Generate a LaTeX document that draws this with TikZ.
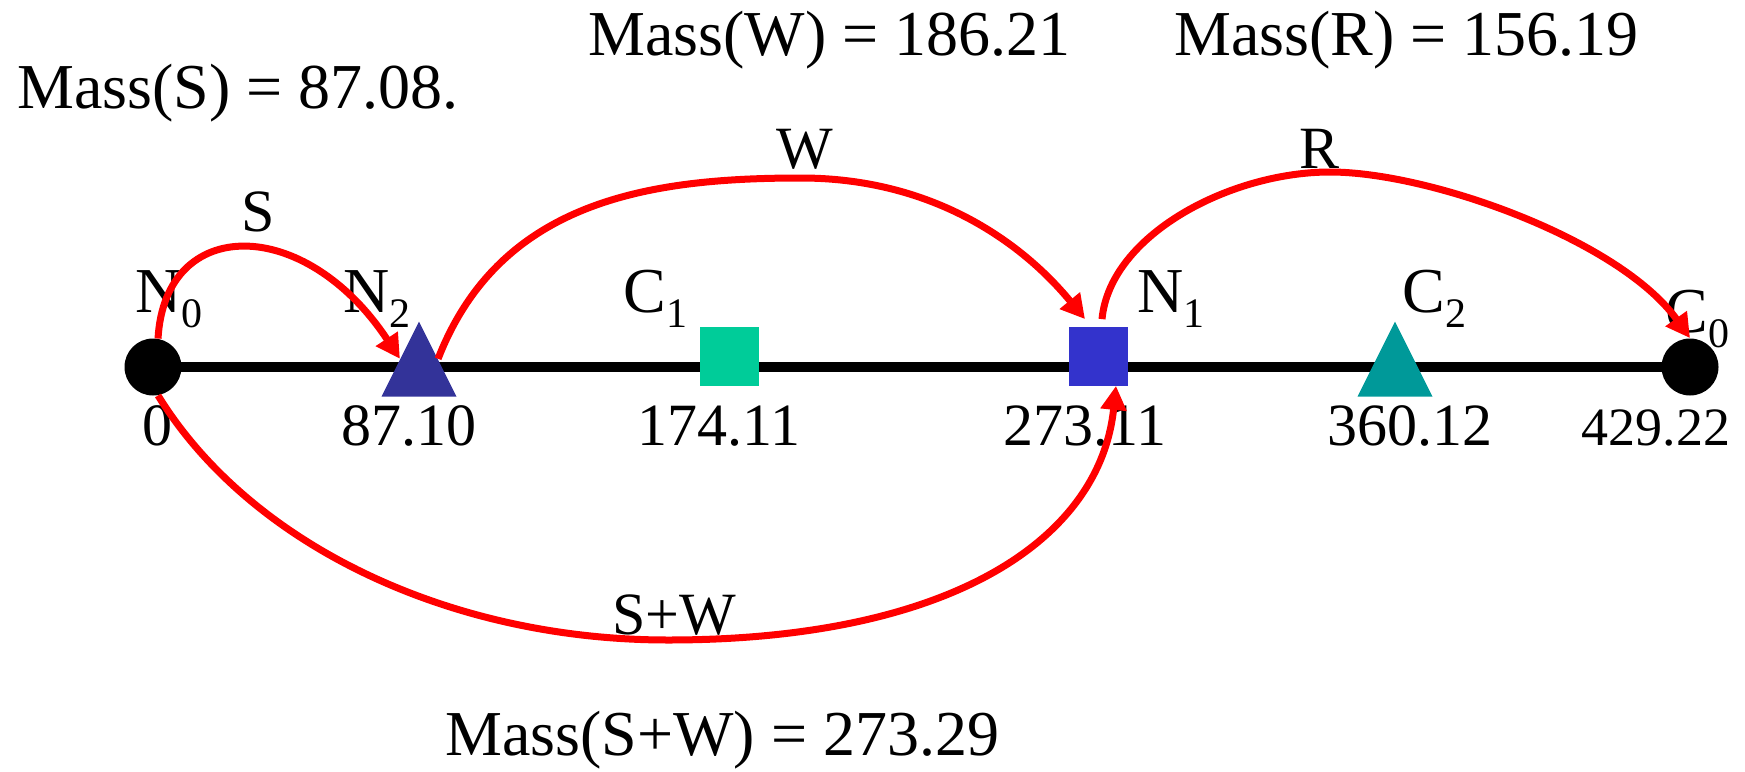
\documentclass[tikz,border=0pt]{standalone}
\usepackage{fontspec}
\setmainfont{Liberation Serif}
\usepackage{tikz}
\usetikzlibrary{shapes.geometric,arrows.meta,backgrounds}

\definecolor{navytri}{HTML}{333399}
\definecolor{bluesq}{HTML}{3333CC}
\definecolor{greensq}{HTML}{00CC99}
\definecolor{tealtri}{HTML}{009999}

\newcommand{\lowidx}[1]{\raisebox{-7.5pt}{\fontsize{21}{21}\selectfont #1}}

\begin{document}
\begin{tikzpicture}[
        x=0.5pt, y=-0.5pt,
        endpt/.style={circle, fill=black, minimum size=28.5pt, inner sep=0pt},
        tri/.style={isosceles triangle, isosceles triangle stretches, shape border rotate=90, minimum width=37.5pt, minimum height=37.5pt, inner sep=0pt, anchor=lower side},
        sq/.style={rectangle, minimum size=29.5pt, inner sep=0pt},
        lbl/.style={font=\fontsize{32}{38}\selectfont, inner sep=0pt, anchor=base west},
        num/.style={font=\fontsize{30}{36}\selectfont, inner sep=0pt, anchor=base},
        jump/.style={red, line width=3.5pt, -{Triangle[length=12pt, width=12.5pt]}}
    ]
        \useasboundingbox (0,0) rectangle (1745,771);

        % Markers on the line
        \node (n0) [endpt] at (153,367) {};
        \node (c0) [endpt] at (1690,367) {};
        \node (n2) [tri, fill=navytri] at (419,397) {};
        \node (c2) [tri, fill=tealtri] at (1395,397) {};
        \node (c1) [sq, fill=greensq] at (729,356) {};
        \node (n1) [sq, fill=bluesq] at (1098,356) {};

        \begin{scope}[on background layer]
            \draw [line width=5pt] (n0.center) -- (c0.center);
        \end{scope}

        % Names
        \node (ln0) [lbl] at (135,312) {N\lowidx{0}};
        \node (ln2) [lbl] at (343,312) {N\lowidx{2}};
        \node (lc1) [lbl] at (623,312) {C\lowidx{1}};
        \node (ln1) [lbl] at (1137,312) {N\lowidx{1}};
        \node (lc2) [lbl] at (1402,312) {C\lowidx{2}};
        \node (lc0) [lbl] at (1665,332) {C\lowidx{0}};

        % Positions
        \node (p0) [num] at (157,445) {0};
        \node (p1) [num] at (409,445) {87.10};
        \node (p2) [num] at (719,445) {174.11};
        \node (p3) [num] at (1085,445) {273.11};
        \node (p4) [num] at (1410,445) {360.12};
        \node (p5) [num, font=\fontsize{27}{32}\selectfont] at (1656,445) {429.22};

        % Masses
        \node (ms) [lbl] at (17,108) {Mass(S) = 87.08.};
        \node (mw) [lbl] at (588,55) {Mass(W) = 186.21};
        \node (mr) [lbl] at (1174,55) {Mass(R) = 156.19};
        \node (msw) [lbl] at (445,755) {Mass(S+W) = 273.29};

        % Jumps
        \draw [jump] (n0.80) .. controls (165,215) and (305,215) .. (n2.left side);
        \draw [jump] (n2.right side) .. controls (500,200) and (650,178) .. (801,178)
            .. controls (930,178) and (1020,240) .. ([xshift=-6.5pt,yshift=3.5pt]n1.north);
        \draw [jump] ([xshift=2pt,yshift=3.5pt]n1.north) .. controls (1110,235) and (1230,172) .. (1330,172)
            .. controls (1430,172) and (1620,240) .. (c0.north);
        \draw [jump] (n0.-80) .. controls (250,545) and (450,640) .. (668,640)
            .. controls (950,640) and (1100,540) .. ([xshift=9pt]n1.south);

        \node (js) [num] at (258,231) {S};
        \node (jw) [num] at (805,168) {W};
        \node (jr) [num] at (1319,168) {R};
        \node (jsw) [num] at (674,634) {S+W};
    \end{tikzpicture}
\end{document}
